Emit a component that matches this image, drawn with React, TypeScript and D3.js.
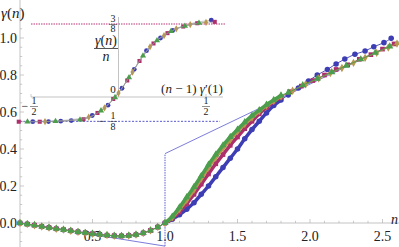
import React from 'react';
import * as d3 from 'd3';

// shared part of all four series, n in [0, 1]
const lowN = [0, 0.05, 0.1, 0.15, 0.2, 0.25, 0.3, 0.35, 0.4, 0.45, 0.5, 0.55, 0.6, 0.65, 0.7, 0.75, 0.8, 0.85, 0.9, 0.95, 1.0];
const lowG = [0, -0.006, -0.012, -0.019, -0.025, -0.031, -0.036, -0.042, -0.048, -0.053, -0.058, -0.062, -0.066, -0.069, -0.07, -0.068, -0.063, -0.054, -0.04, -0.022, 0];

// steep part, n in (1, 1.8]
const highN = [1.05, 1.1, 1.15, 1.2, 1.25, 1.3, 1.35, 1.4, 1.45, 1.5, 1.55, 1.6, 1.65, 1.7, 1.75, 1.8];
const blueHigh = [0.02, 0.045, 0.075, 0.11, 0.155, 0.2, 0.25, 0.3, 0.35, 0.4, 0.455, 0.505, 0.55, 0.595, 0.635, 0.665];
const magentaHigh = [0.025, 0.06, 0.105, 0.155, 0.21, 0.265, 0.32, 0.37, 0.42, 0.465, 0.51, 0.55, 0.59, 0.625, 0.655, 0.68];
const oliveHigh = [0.03, 0.075, 0.125, 0.18, 0.24, 0.3, 0.355, 0.405, 0.45, 0.495, 0.535, 0.57, 0.605, 0.635, 0.66, 0.685];
const greenHigh = [0.035, 0.085, 0.14, 0.195, 0.255, 0.315, 0.37, 0.42, 0.465, 0.505, 0.545, 0.58, 0.61, 0.64, 0.665, 0.69];

// tails
const blueTailN = [1.85, 1.92, 1.99, 2.05, 2.12, 2.18, 2.24, 2.31, 2.38, 2.44, 2.51, 2.56];
const blueTailG = [0.692, 0.73, 0.768, 0.8, 0.83, 0.86, 0.886, 0.912, 0.93, 0.953, 0.975, 0.998];
const magentaTailN = [1.86, 1.94, 2.02, 2.1, 2.18, 2.26, 2.34, 2.42, 2.5, 2.58];
const magentaTailG = [0.71, 0.74, 0.77, 0.8, 0.83, 0.855, 0.885, 0.91, 0.94, 0.968];
const oliveTailN = [1.88, 1.97, 2.06, 2.14, 2.22, 2.3, 2.38, 2.46, 2.54, 2.6];
const oliveTailG = [0.715, 0.75, 0.782, 0.81, 0.838, 0.866, 0.893, 0.92, 0.948, 0.97];
const greenTailN = [1.85, 1.95, 2.05, 2.15, 2.25, 2.35, 2.45, 2.55];
const greenTailG = [0.705, 0.745, 0.78, 0.815, 0.85, 0.885, 0.92, 0.955];

// construction line: tangent, jump, asymptote
const guideN = [0, 1, 1, 2.61];
const guideG = [0, -0.125, 0.375, 0.98];

// inset: gamma(n)/n against (n-1) gamma'(1)
const insetBlueU = [-0.49, -0.4, -0.33, -0.27, -0.15, -0.06, 0.02, 0.09, 0.16, 0.24, 0.31, 0.53];
const insetBlueV = [-0.127, -0.126, -0.124, -0.121, -0.095, -0.042, 0.045, 0.142, 0.238, 0.303, 0.342, 0.395];
const insetMagentaU = [-0.57, -0.45, -0.2, -0.12, -0.03, 0.05, 0.12, 0.2, 0.28, 0.37, 0.45, 0.55];
const insetMagentaV = [-0.127, -0.127, -0.114, -0.082, -0.01, 0.085, 0.185, 0.275, 0.328, 0.362, 0.379, 0.386];
const insetOliveU = [-0.42, -0.17, -0.08, 0, 0.08, 0.18, 0.26, 0.33, 0.41, 0.5];
const insetOliveV = [-0.126, -0.103, -0.056, 0.02, 0.128, 0.258, 0.315, 0.35, 0.372, 0.383];
const insetGreenU = [-0.52, -0.36, -0.22, -0.1, -0.02, 0.06, 0.14, 0.22, 0.3, 0.38, 0.46];
const insetGreenV = [-0.127, -0.125, -0.117, -0.07, -0.002, 0.1, 0.212, 0.29, 0.338, 0.365, 0.38];

const xTicks = [0.5, 1.0, 1.5, 2.0, 2.5];
const yTicks = [0.0, 0.2, 0.4, 0.6, 0.8, 1.0];

const W = 399;
const H = 247;
const AXIS = '#b4b4b4';
const SERIF = '"Times New Roman", Times, "Liberation Serif", "DejaVu Serif", serif';

type Pt = [number, number];
const zip = (a: number[], b: number[]): Pt[] => a.map((v, i) => [v, b[i]]);

const series = [
  { name: 'blue', color: '#3d3db4', symbol: d3.symbolCircle, size: 24, high: blueHigh, tn: blueTailN, tg: blueTailG, iu: insetBlueU, iv: insetBlueV },
  { name: 'magenta', color: '#ad2f6c', symbol: d3.symbolSquare, size: 22, high: magentaHigh, tn: magentaTailN, tg: magentaTailG, iu: insetMagentaU, iv: insetMagentaV },
  { name: 'olive', color: '#b8974e', symbol: d3.symbolDiamond, size: 20, high: oliveHigh, tn: oliveTailN, tg: oliveTailG, iu: insetOliveU, iv: insetOliveV },
  { name: 'green', color: '#4c9e4c', symbol: d3.symbolTriangle, size: 22, high: greenHigh, tn: greenTailN, tg: greenTailG, iu: insetGreenU, iv: insetGreenV },
];

export default function App() {
  const x = d3.scaleLinear().domain([0, 2.6]).range([20, 397]);
  const y = d3.scaleLinear().domain([0, 1]).range([223, 38]);
  const ix = d3.scaleLinear().domain([-0.5, 0.5]).range([31, 206]);
  const iy = d3.scaleLinear().domain([0, 0.375]).range([97, 24]);

  const line = d3.line<Pt>().x(d => x(d[0])).y(d => y(d[1]));
  const smooth = d3.line<Pt>().x(d => x(d[0])).y(d => y(d[1])).curve(d3.curveMonotoneX);
  const iline = d3.line<Pt>().x(d => ix(d[0])).y(d => iy(d[1])).curve(d3.curveMonotoneX);

  const xMinor = d3.range(1, 26).map(i => i / 10);
  const yMinor = d3.range(-2, 24).map(i => i / 20);

  return (
    <div style={{ position: 'fixed', left: 0, top: 0 }}>
      <svg width={W} height={H} fontFamily={SERIF} style={{ display: 'block', background: '#fff' }}>
        {/* main axes */}
        <line x1={x(0)} x2={W} y1={y(0)} y2={y(0)} stroke={AXIS} strokeWidth={0.8} />
        <line x1={x(0)} x2={x(0)} y1={0} y2={H} stroke={AXIS} strokeWidth={0.8} />
        {xMinor.map(t => (
          <line key={'xm' + t} x1={x(t)} x2={x(t)} y1={y(0)} y2={y(0) - (Math.abs(t * 2 - Math.round(t * 2)) < 1e-6 ? 4 : 2.2)} stroke={AXIS} strokeWidth={0.7} />
        ))}
        {yMinor.map(t => (
          <line key={'ym' + t} x1={x(0)} x2={x(0) + (Math.abs(t * 5 - Math.round(t * 5)) < 1e-6 ? 4 : 2.2)} y1={y(t)} y2={y(t)} stroke={AXIS} strokeWidth={0.7} />
        ))}
        {xTicks.map(t => (
          <text key={'xt' + t} x={x(t)} y={241} textAnchor="middle" fontSize={14} fill="#222">{t.toFixed(1)}</text>
        ))}
        {yTicks.map(t => (
          <text key={'yt' + t} x={17} y={y(t) + 5} textAnchor="end" fontSize={14} fill="#222">{t.toFixed(1)}</text>
        ))}
        <text x={1} y={18} fontSize={15} fill="#222">
          <tspan fontStyle="italic">γ</tspan>(<tspan fontStyle="italic">n</tspan>)
        </text>
        <text x={391} y={224} fontSize={14} fontStyle="italic" fill="#222">n</text>

        {/* inset axes and reference levels */}
        <line x1={ix(-0.5)} x2={223} y1={iy(0)} y2={iy(0)} stroke={AXIS} strokeWidth={0.8} />
        <line x1={ix(0)} x2={ix(0)} y1={17} y2={iy(0)} stroke={AXIS} strokeWidth={0.8} />
        <line x1={ix(-0.5)} x2={ix(-0.5)} y1={iy(0)} y2={iy(0) - 3} stroke={AXIS} strokeWidth={0.7} />
        <line x1={ix(0.5)} x2={ix(0.5)} y1={iy(0)} y2={iy(0) - 3} stroke={AXIS} strokeWidth={0.7} />
        <line x1={ix(-0.5)} x2={225} y1={iy(0.375)} y2={iy(0.375)} stroke="#d07aa6" strokeWidth={1.6} strokeDasharray="1.5,1" />
        <line x1={20} x2={220} y1={iy(-0.125)} y2={iy(-0.125)} stroke="#5a5ad0" strokeWidth={1} strokeDasharray="2,1.5" />

        {/* inset labels */}
        <g fill="#222">
          <text x={113} y={22} textAnchor="middle" fontSize={10}>3</text>
          <line x1={109} x2={117} y1={24.5} y2={24.5} stroke="#222" strokeWidth={0.5} />
          <text x={113} y={32} textAnchor="middle" fontSize={10}>8</text>

          <text x={106} y={45} textAnchor="middle" fontSize={14}><tspan fontStyle="italic">γ</tspan>(<tspan fontStyle="italic">n</tspan>)</text>
          <line x1={94} x2={118} y1={48.5} y2={48.5} stroke="#555" strokeWidth={1} />
          <text x={106} y={61} textAnchor="middle" fontSize={14} fontStyle="italic">n</text>

          <text x={113} y={93} textAnchor="middle" fontSize={11}>0</text>
          <text x={192} y={93} textAnchor="middle" fontSize={13}>(<tspan fontStyle="italic">n</tspan> − 1) <tspan fontStyle="italic">γ</tspan>′(1)</text>

          <text x={25} y={110} textAnchor="middle" fontSize={12}>−</text>
          <text x={34} y={104} textAnchor="middle" fontSize={10}>1</text>
          <line x1={30} x2={38} y1={106.5} y2={106.5} stroke="#222" strokeWidth={0.5} />
          <text x={34} y={115} textAnchor="middle" fontSize={10}>2</text>

          <text x={ix(0.5)} y={104} textAnchor="middle" fontSize={10}>1</text>
          <line x1={ix(0.5) - 4} x2={ix(0.5) + 4} y1={106.5} y2={106.5} stroke="#222" strokeWidth={0.5} />
          <text x={ix(0.5)} y={115} textAnchor="middle" fontSize={10}>2</text>

          <text x={102} y={125} textAnchor="middle" fontSize={12}>−</text>
          <text x={113} y={119} textAnchor="middle" fontSize={10}>1</text>
          <line x1={109} x2={117} y1={121.5} y2={121.5} stroke="#222" strokeWidth={0.5} />
          <text x={113} y={130} textAnchor="middle" fontSize={10}>8</text>
        </g>

        {/* inset data */}
        {series.map(s => {
          const pts = zip(s.iu, s.iv);
          return (
            <g key={'i' + s.name}>
              <path d={iline(pts) || ''} fill="none" stroke="#999" strokeWidth={0.6} />
              {pts.map((p, i) => (
                <path key={i} transform={`translate(${ix(p[0])},${iy(p[1])})`} d={d3.symbol(s.symbol, s.size * 0.75)() || ''} fill={s.color} />
              ))}
            </g>
          );
        })}

        {/* construction line */}
        <path d={line(zip(guideN.slice(0, 2), guideG.slice(0, 2))) || ''} fill="none" stroke="#5a5ad0" strokeWidth={0.8} />
        <path d={line(zip(guideN.slice(1, 3), guideG.slice(1, 3))) || ''} fill="none" stroke="#5a5ad0" strokeWidth={1} strokeDasharray="1.5,1" />
        <path d={line(zip(guideN.slice(2), guideG.slice(2))) || ''} fill="none" stroke="#5a5ad0" strokeWidth={0.8} />

        {/* main data */}
        {series.map(s => {
          const band = zip([1.0].concat(highN), [0].concat(s.high));
          const all = zip(lowN.concat(highN), lowG.concat(s.high)).concat(zip(s.tn, s.tg));
          return (
            <g key={'m' + s.name}>
              <path d={smooth(band) || ''} fill="none" stroke={s.color} strokeWidth={3.5} />
              <path d={smooth(all) || ''} fill="none" stroke={s.color} strokeWidth={0.9} />
              {all.map((p, i) => (
                <path key={i} transform={`translate(${x(p[0])},${y(p[1])})`} d={d3.symbol(s.symbol, s.size)() || ''} fill={s.color} />
              ))}
            </g>
          );
        })}
      </svg>
    </div>
  );
}
